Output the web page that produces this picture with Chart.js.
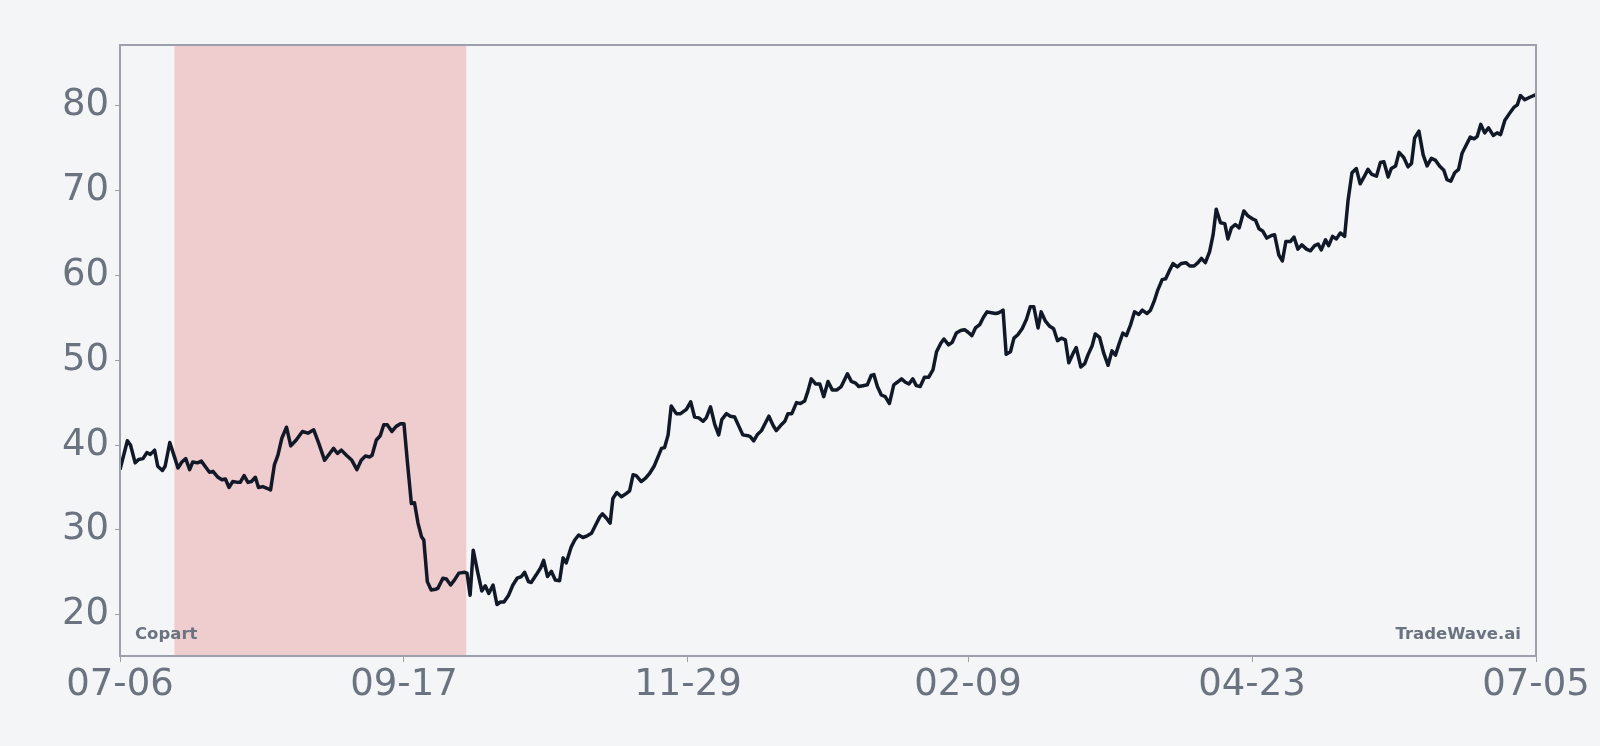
<!DOCTYPE html>
<html>
<head>
<meta charset="utf-8">
<script src="https://cdn.jsdelivr.net/npm/chart.js@4.4.1/dist/chart.umd.min.js"></script>
<style>
  html, body { margin: 0; padding: 0; background: #f4f5f7; }
  #wrap { width: 1600px; height: 746px; position: relative; }
</style>
</head>
<body>
<div id="wrap"><canvas id="priceChart"></canvas></div>
<script>
// x axis = calendar days since 07-06
const tickDays = [0, 73, 146, 218, 291, 364];
const tickLabels = ['07-06', '09-17', '11-29', '02-09', '04-23', '07-05'];
const yTicks = [20, 30, 40, 50, 60, 70, 80];
const shadeDays = [14, 89];
const brandLeft = 'Copart';
const brandRight = 'TradeWave.ai';

const days = [
  0, 1.9, 2.7, 3.9, 4.8, 5.9, 6.9, 7.8, 8.9, 9.7, 10.9, 11.6, 12.8, 14.0, 14.9, 15.9, 16.9, 17.9, 18.7, 19.9,
  20.9, 22.2, 23.0, 23.9, 25.2, 26.2, 27.1, 28.0, 29.0, 30.3, 30.9, 31.9, 32.9, 33.8, 34.8, 35.6, 36.7, 37.8, 38.7, 39.7,
  40.6, 41.6, 42.8, 43.9, 45.3, 46.9, 48.3, 49.8, 51.1, 52.6, 53.9, 54.9, 55.9, 56.9, 58.2, 59.6, 60.9, 62.0, 63.1, 64.2,
  64.8, 65.9, 66.9, 67.8, 68.7, 69.9, 71.0, 72.1, 73.0, 73.9, 74.9, 75.7, 76.6, 77.5, 78.1, 79.0, 80.0, 81.1, 81.7, 83.0,
  83.9, 85.0, 86.0, 87.1, 88.6, 89.2, 90.0, 90.8, 92.0, 93.0, 93.9, 94.8, 95.9, 96.9, 97.8, 98.7, 99.9, 101.0, 102.1, 103.2,
  104.0, 105.0, 105.7, 107.0, 108.1, 108.9, 109.9, 110.9, 111.9, 113.0, 113.9, 114.7, 116.0, 116.9, 117.9, 119.0, 120.1, 121.2, 122.3, 123.3,
  124.0, 125.0, 126.0, 126.7, 127.7, 128.9, 130.2, 131.0, 131.9, 132.7, 134.0, 135.1, 136.2, 137.3, 138.3, 139.2, 140.0, 140.9, 141.7, 143.0,
  144.1, 145.6, 146.7, 147.7, 148.8, 149.9, 150.7, 151.8, 152.9, 153.9, 154.7, 155.9, 156.9, 158.0, 159.1, 160.1, 161.4, 162.0, 162.9, 163.8,
  164.9, 165.9, 166.8, 167.9, 168.7, 169.8, 170.9, 171.7, 172.7, 173.9, 174.9, 176.0, 176.8, 177.7, 178.8, 179.9, 180.9, 182.0, 183.1, 184.3,
  185.4, 187.0, 188.0, 189.1, 189.9, 191.0, 192.1, 193.1, 193.8, 194.7, 195.7, 196.7, 197.8, 198.9, 199.8, 200.9, 201.9, 202.8, 203.8, 204.7,
  205.7, 206.8, 207.9, 209.0, 209.9, 211.0, 211.8, 213.0, 213.9, 215.0, 216.1, 217.1, 218.0, 219.0, 219.9, 221.0, 222.0, 222.9, 224.0, 225.1,
  225.9, 227.0, 227.8, 228.9, 229.8, 230.8, 231.9, 233.0, 234.0, 234.9, 236.0, 236.8, 237.9, 239.0, 240.0, 241.0, 242.0, 243.0, 243.9, 245.0,
  245.8, 247.0, 248.0, 248.8, 249.9, 250.7, 251.8, 252.9, 254.0, 255.0, 255.9, 256.8, 257.8, 258.7, 259.8, 260.8, 261.9, 262.8, 264.0, 264.9,
  265.8, 266.8, 267.9, 268.8, 269.7, 270.7, 271.8, 272.8, 274.0, 275.0, 276.1, 277.1, 278.0, 279.0, 280.1, 281.0, 281.8, 282.9, 284.0, 284.8,
  285.7, 286.7, 287.7, 288.9, 290.0, 291.0, 291.9, 292.8, 293.8, 294.8, 296.0, 296.8, 297.9, 298.8, 299.7, 300.9, 301.8, 302.8, 303.8, 305.0,
  306.0, 307.1, 308.0, 308.8, 309.9, 310.7, 311.7, 312.7, 313.7, 314.8, 315.7, 316.7, 317.8, 318.8, 319.8, 320.8, 321.8, 323.0, 324.0, 324.9,
  326.0, 326.8, 327.9, 328.8, 330.0, 331.1, 332.0, 332.8, 333.9, 335.0, 336.0, 337.1, 338.1, 339.2, 340.3, 341.1, 342.1, 343.1, 344.1, 345.0,
  346.1, 347.1, 348.1, 348.9, 349.8, 350.8, 351.8, 353.0, 354.0, 354.9, 356.0, 357.2, 358.3, 359.2, 360.0, 361.1, 362.4, 364
];

const prices = [
  37.1, 40.5, 40.0, 37.9, 38.3, 38.4, 39.1, 38.9, 39.4, 37.5, 37.0, 37.5, 40.3, 38.6, 37.3, 38.0, 38.4, 37.1, 38.0, 37.9,
  38.1, 37.3, 36.8, 36.9, 36.2, 35.9, 36.0, 35.0, 35.7, 35.6, 35.6, 36.4, 35.6, 35.7, 36.2, 35.0, 35.1, 34.9, 34.7, 37.7,
  38.8, 40.8, 42.1, 39.9, 40.6, 41.6, 41.4, 41.8, 40.2, 38.2, 39.0, 39.6, 39.0, 39.4, 38.8, 38.2, 37.1, 38.2, 38.7, 38.6,
  38.8, 40.6, 41.1, 42.4, 42.4, 41.6, 42.2, 42.5, 42.5, 37.9, 33.1, 33.2, 30.8, 29.2, 28.8, 23.9, 22.9, 23.0, 23.1, 24.3,
  24.2, 23.5, 24.1, 24.9, 25.0, 24.9, 22.3, 27.6, 24.9, 22.8, 23.4, 22.5, 23.5, 21.2, 21.5, 21.5, 22.3, 23.5, 24.3, 24.5,
  25.0, 23.9, 23.8, 24.7, 25.5, 26.4, 24.5, 25.1, 24.1, 24.0, 26.7, 26.1, 28.0, 28.8, 29.4, 29.1, 29.3, 29.6, 30.6, 31.5,
  31.9, 31.4, 30.8, 33.7, 34.4, 33.9, 34.3, 34.6, 36.5, 36.4, 35.7, 36.1, 36.7, 37.5, 38.6, 39.6, 39.7, 41.2, 44.6, 43.7,
  43.7, 44.2, 45.1, 43.3, 43.2, 42.8, 43.2, 44.5, 42.4, 41.2, 43.0, 43.7, 43.4, 43.3, 42.2, 41.2, 41.1, 41.0, 40.5, 41.2,
  41.7, 42.6, 43.4, 42.3, 41.7, 42.3, 42.8, 43.7, 43.7, 45.0, 44.9, 45.2, 46.3, 47.8, 47.2, 47.2, 45.7, 47.5, 46.5, 46.5,
  46.9, 48.4, 47.5, 47.3, 46.9, 47.0, 47.1, 48.2, 48.3, 46.9, 45.9, 45.7, 44.9, 47.1, 47.4, 47.8, 47.4, 47.2, 47.8, 47.0,
  46.9, 48.0, 48.0, 48.9, 51.0, 52.0, 52.5, 51.8, 52.1, 53.2, 53.5, 53.6, 53.3, 52.9, 53.8, 54.2, 55.1, 55.7, 55.6, 55.5,
  55.6, 55.9, 50.7, 51.0, 52.6, 53.0, 53.7, 54.8, 56.3, 56.3, 53.8, 55.7, 54.6, 54.0, 53.7, 52.3, 52.6, 52.4, 49.7, 50.8,
  51.5, 49.2, 49.6, 50.6, 51.7, 53.1, 52.7, 50.8, 49.4, 51.1, 50.6, 51.9, 53.2, 52.9, 54.2, 55.7, 55.4, 55.9, 55.5, 55.9,
  56.9, 58.3, 59.5, 59.6, 60.5, 61.4, 61.0, 61.4, 61.5, 61.1, 61.1, 61.5, 62.0, 61.5, 62.8, 64.8, 67.8, 66.2, 66.1, 64.3,
  65.6, 66.0, 65.6, 67.6, 67.0, 66.7, 66.5, 65.5, 65.2, 64.4, 64.7, 64.8, 62.4, 61.7, 64.0, 64.0, 64.5, 63.1, 63.6, 63.1,
  62.9, 63.5, 63.7, 63.0, 64.2, 63.5, 64.6, 64.3, 65.0, 64.6, 68.9, 72.1, 72.6, 70.8, 71.6, 72.5, 71.9, 71.7, 73.3, 73.4,
  71.6, 72.6, 72.9, 74.5, 73.9, 72.8, 73.2, 76.2, 77.0, 74.2, 72.9, 73.8, 73.6, 72.9, 72.4, 71.3, 71.1, 72.1, 72.5, 74.4,
  75.4, 76.3, 76.1, 76.4, 77.8, 76.8, 77.4, 76.5, 76.8, 76.6, 78.3, 79.1, 79.8, 80.1, 81.2, 80.7, 81.0, 81.3
];

const textColor = '#6b7280';
const frameColor = '#9ca0aa';

const frame = {
  id: 'frame',
  beforeDatasetsDraw(chart) {
    const { ctx, chartArea: a, scales: { x } } = chart;
    const x0 = x.getPixelForValue(shadeDays[0]);
    const x1 = x.getPixelForValue(shadeDays[1]);
    ctx.save();
    ctx.fillStyle = 'rgba(220, 38, 38, 0.2)';
    ctx.fillRect(x0, a.top, x1 - x0, a.bottom - a.top);
    ctx.restore();
  },
  afterDatasetsDraw(chart) {
    const { ctx, chartArea: a } = chart;
    ctx.save();
    ctx.fillStyle = textColor;
    ctx.font = 'bold 16.5px "DejaVu Sans"';
    ctx.textBaseline = 'alphabetic';
    ctx.textAlign = 'left';
    ctx.fillText(brandLeft, a.left + 15, a.bottom - 17);
    ctx.textAlign = 'right';
    ctx.fillText(brandRight, a.right - 15, a.bottom - 17);
    ctx.strokeStyle = frameColor;
    ctx.lineWidth = 2;
    ctx.strokeRect(a.left, a.top, a.right - a.left, a.bottom - a.top);
    ctx.restore();
  }
};

new Chart(document.getElementById('priceChart'), {
  type: 'line',
  data: {
    datasets: [{
      data: days.map((d, i) => ({ x: d, y: prices[i] })),
      borderColor: '#111827',
      borderWidth: 3.5,
      pointRadius: 0,
      tension: 0,
      borderJoinStyle: 'round',
      fill: false
    }]
  },
  options: {
    responsive: true,
    maintainAspectRatio: false,
    animation: false,
    layout: { padding: { top: 45, right: 64, left: 0, bottom: 0 } },
    plugins: { legend: { display: false }, tooltip: { enabled: false } },
    scales: {
      x: {
        type: 'linear',
        min: 0,
        max: 364,
        afterBuildTicks: (s) => { s.ticks = tickDays.map(v => ({ value: v })); },
        afterFit: (s) => { s.height = 90; },
        border: { display: false },
        grid: { drawOnChartArea: false, tickLength: 6, color: frameColor },
        ticks: {
          autoSkip: false,
          maxRotation: 0,
          padding: 1,
          color: textColor,
          font: { family: 'DejaVu Sans', size: 37 },
          callback: (v) => tickLabels[tickDays.indexOf(v)]
        }
      },
      y: {
        min: 15.13,
        max: 87.16,
        afterBuildTicks: (s) => { s.ticks = yTicks.map(v => ({ value: v })); },
        afterFit: (s) => { s.width = 120; },
        border: { display: false },
        grid: { drawOnChartArea: false, tickLength: 5, color: frameColor },
        ticks: {
          padding: 6,
          color: textColor,
          font: { family: 'DejaVu Sans', size: 37 }
        }
      }
    }
  },
  plugins: [frame]
});
</script>
</body>
</html>
